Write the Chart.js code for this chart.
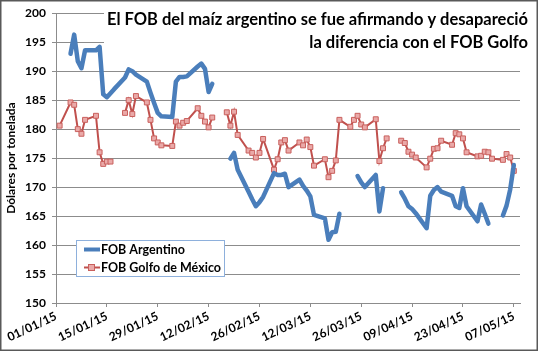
<!DOCTYPE html>
<html>
<head>
<meta charset="utf-8">
<script src="https://cdn.jsdelivr.net/npm/chart.js@4.4.1/dist/chart.umd.min.js"></script>
<style>
  html, body { margin: 0; padding: 0; background: #fff; }
  #wrap { width: 539px; height: 352px; position: relative; }
</style>
</head>
<body>
<div id="wrap"><canvas id="chart" width="539" height="352"></canvas></div>
<script>
// days counted from 01/01/15; null = no quote that day (gap in the line)
const tickLabels = ['01/01/15', '15/01/15', '29/01/15', '12/02/15', '26/02/15',
                    '12/03/15', '26/03/15', '09/04/15', '23/04/15', '07/05/15'];
const tickDays   = [0, 14, 28, 42, 56, 70, 84, 98, 112, 126];

const argDays = [4, 5, 6, 7, 8, 11, 12, 13, 14, 15, 16, 19, 20, 21, 22, 25, 26, 27, 28, 29,
  32, 33, 34, 35, 36, 39, 40, 41, 42, 43, 46, 48, 49, 50, 53, 54, 55, 56, 57, 60, 61, 62, 63, 64,
  67, 68, 69, 70, 71, 74, 75, 76, 77, 78, 81, 83, 84, 85, 88, 89, 90, 92, 95, 96, 97, 98, 99,
  102, 103, 104, 105, 106, 109, 110, 111, 112, 113, 116, 117, 118, 119, 120, 123, 124, 125, 126];
const argValues = [193.0, 196.3, 191.7, 190.5, 193.6, 193.6, 194.2, 186.0, 185.5, 186.2, 186.9,
  188.9, 190.3, 190.0, 189.4, 188.2, 186.3, 184.5, 182.8, 182.2,
  182.1, 188.2, 189.0, 189.0, 189.1, 190.8, 191.3, 190.4, 186.4, 187.8, null,
  174.9, 175.9, 173.0, 169.2, 167.9, 166.7, 167.4, 168.3, 172.4, 172.1, 172.1, 172.3, 170.0,
  171.3, 170.2, 169.4, 168.4, 165.2, 164.6, 160.9, 162.2, 162.3, 165.4, null,
  171.9, 170.8, 170.0, 172.1, 165.8, 169.8, null,
  169.1, 168.0, 166.7, 166.2, 165.5, 162.9, 168.5, 169.5, 170.0, 169.2,
  168.5, 166.7, 166.4, 169.8, 166.7, 164.1, 167.0, 165.4, 163.7, null,
  165.1, 166.8, 169.6, 173.8];

const golfoDays = [1, 4, 5, 6, 7, 8, 11, 12, 13, 14, 15, 18, 19, 20, 21, 22, 25, 26, 27, 28, 29,
  32, 33, 34, 35, 36, 39, 40, 41, 42, 43, 46, 47, 48, 49, 50, 53, 54, 55, 56, 57, 60, 61, 62, 63, 64,
  67, 68, 69, 70, 71, 74, 75, 76, 77, 78, 81, 82, 83, 84, 85, 88, 89, 90, 91, 92,
  95, 96, 97, 98, 99, 102, 103, 104, 105, 106, 109, 110, 111, 112, 113,
  116, 117, 118, 119, 120, 123, 124, 125, 126];
const golfoValues = [180.6, 184.6, 184.2, 180.0, 179.2, 181.6, 182.3, 176.0, 174.0, 174.4, 174.4, null,
  182.8, 185.0, 182.6, 185.7, 184.6, 181.6, 178.4, 177.7, 177.2,
  177.1, 181.3, 180.6, 181.1, 181.4, 183.6, 182.3, 181.3, 180.3, 182.0, null,
  182.9, 180.6, 183.0, 179.0, 176.3, 175.9, 175.1, 175.9, 178.3, 173.0, 174.8, 177.7, 178.1, 176.3,
  177.7, 177.2, 178.2, 176.9, 173.7, 174.8, 171.7, 172.8, 174.6, 181.6,
  180.4, 181.6, 182.3, 180.8, 180.3, 181.7, 174.5, 176.7, 178.4, null,
  178.0, 177.6, 176.1, 175.6, 175.1, 173.4, 174.9, 176.6, 176.7, 178.0,
  177.3, 179.3, 179.1, 178.4, 176.0, 175.3, 175.4, 176.1, 176.0, 174.9,
  174.7, 175.7, 175.1, 172.8];

const titleLines = ['El FOB del maíz argentino se fue afirmando y desapareció',
                    'la diferencia con el FOB Golfo'];
const yTitle = 'Dólares por tonelada';

const FONT = 'Lato, "Liberation Sans", sans-serif';
const BLUE = '#4a7ebb';
const RED = '#c0504d';
const GRID = '#8c8c8c';

const pts = (days, vals) => days.map((d, k) => ({ x: d, y: vals[k] }));

// title box overlaps the plot area (white background hides the gridlines behind it)
const titlePlugin = {
  id: 'titleBox',
  beforeDatasetsDraw(chart) {
    const ctx = chart.ctx;
    ctx.save();
    ctx.fillStyle = '#fff';
    ctx.fillRect(104, 2, 428, 52);
    ctx.fillStyle = '#000';
    ctx.font = 'bold 16.5px ' + FONT;
    ctx.textAlign = 'right';
    ctx.textBaseline = 'alphabetic';
    ctx.fillText(titleLines[0], 528, 25);
    ctx.fillText(titleLines[1], 528, 48);
    ctx.restore();
  }
};

const legendPlugin = {
  id: 'boxLegend',
  afterDraw(chart) {
    const ctx = chart.ctx;
    ctx.save();
    ctx.fillStyle = '#fff';
    ctx.fillRect(76, 240, 149, 37);
    ctx.strokeStyle = '#8eb0dc';
    ctx.lineWidth = 1;
    ctx.strokeRect(76.5, 240.5, 148, 36);
    // FOB Argentino
    ctx.strokeStyle = BLUE;
    ctx.lineWidth = 4;
    ctx.beginPath(); ctx.moveTo(84, 249.5); ctx.lineTo(100, 249.5); ctx.stroke();
    // FOB Golfo
    ctx.strokeStyle = RED;
    ctx.lineWidth = 2;
    ctx.beginPath(); ctx.moveTo(84, 267.5); ctx.lineTo(100, 267.5); ctx.stroke();
    ctx.fillStyle = '#eaa9a8';
    ctx.strokeStyle = '#c9605d';
    ctx.lineWidth = 1;
    ctx.fillRect(88.5, 264.5, 6, 6);
    ctx.strokeRect(88.5, 264.5, 6, 6);
    ctx.fillStyle = '#000';
    ctx.font = 'bold 12.5px ' + FONT;
    ctx.textBaseline = 'middle';
    ctx.fillText(chart.data.datasets[0].label, 101, 250);
    ctx.fillText(chart.data.datasets[1].label, 101, 268);
    ctx.restore();
  }
};

const framePlugin = {
  id: 'frame',
  afterDraw(chart) {
    const ctx = chart.ctx;
    ctx.save();
    ctx.strokeStyle = '#595959';
    ctx.lineWidth = 1.5;
    ctx.strokeRect(0.75, 0.75, 536.5, 349.5);
    ctx.restore();
  }
};

new Chart(document.getElementById('chart'), {
  type: 'line',
  data: {
    datasets: [
      {
        label: 'FOB Argentino',
        data: pts(argDays, argValues),
        borderColor: BLUE,
        borderWidth: 4.5,
        pointRadius: 0,
        tension: 0,
        spanGaps: false,
        borderJoinStyle: 'round',
        borderCapStyle: 'round',
        order: 1,
      },
      {
        label: 'FOB Golfo de México',
        data: pts(golfoDays, golfoValues),
        borderColor: RED,
        borderWidth: 2,
        pointStyle: 'rect',
        pointRadius: 3.5,
        pointBackgroundColor: '#eaa9a8',
        pointBorderColor: '#c9605d',
        pointBorderWidth: 1,
        tension: 0,
        spanGaps: false,
        order: 2,
      },
    ]
  },
  options: {
    responsive: false,
    devicePixelRatio: 1,
    animation: false,
    layout: { padding: { top: 13, right: 19, left: 0, bottom: 0 } },
    plugins: {
      legend: { display: false },
      title: { display: false },
      tooltip: { enabled: false },
    },
    scales: {
      x: {
        type: 'linear',
        min: 0,
        max: 127.7,
        afterBuildTicks: s => { s.ticks = tickDays.map(v => ({ value: v })); },
        afterFit: s => { s.height = 49; },
        grid: { drawOnChartArea: false, tickLength: 4, color: GRID },
        border: { color: GRID },
        ticks: {
          autoSkip: false,
          minRotation: 25,
          maxRotation: 25,
          padding: 2,
          color: '#000',
          font: { family: FONT, size: 12, weight: 'bold' },
          callback: v => tickLabels[tickDays.indexOf(v)],
        },
      },
      y: {
        min: 150,
        max: 200,
        afterFit: s => { s.width = 56; },
        grid: { color: GRID, tickLength: 4 },
        border: { color: GRID },
        ticks: {
          stepSize: 5,
          padding: 6,
          color: '#000',
          font: { family: FONT, size: 12, weight: 'bold' },
        },
        title: {
          display: true,
          text: yTitle,
          color: '#000',
          font: { family: FONT, size: 12, weight: 'bold' },
          padding: { top: 4, bottom: 0 },
        },
      },
    },
  },
  plugins: [titlePlugin, legendPlugin, framePlugin],
});
</script>
</body>
</html>
